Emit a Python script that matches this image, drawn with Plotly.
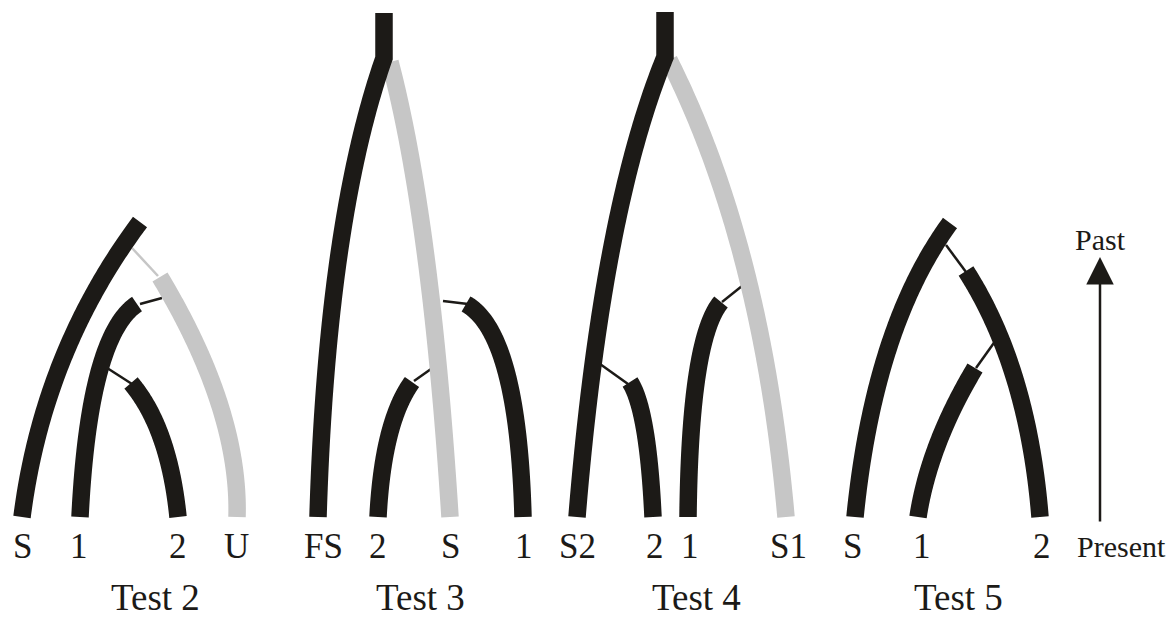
import numpy as np
import plotly.graph_objects as go

# ---------------- data (picture pixels, y grows downward) ----------------
# Each branch: tip label, present-end point, bend (control) point, past-end point
test2_branches = [
    ("S", (22, 517), (43, 352), (140, 222)),
    ("1", (80, 517), (89, 336), (137, 304)),
    ("2", (178, 517), (169, 428), (131, 383)),
    ("U", (237, 517), (240, 410), (160, 277)),
]
test2_grey = ["U"]
test2_links = [((132, 248), (158, 276), "grey"),
               ((140, 304), (162, 298), "black"),
               ((104, 366), (132, 384), "black")]

test3_trunk = [(384, 13), (384, 58)]
test3_trunk_branch = "FS"
test3_branches = [
    ("FS", (318, 517), (327, 221), (384, 58)),
    ("2", (378, 517), (383, 422), (412, 382)),
    ("S", (450, 517), (431, 218), (390, 62)),
    ("1", (523, 517), (518, 333), (466, 304)),
]
test3_grey = ["S"]
test3_links = [((443, 301), (468, 304), "black"),
               ((431, 369), (414, 381), "black")]

test4_trunk = [(665, 12), (665, 57)]
test4_trunk_branch = "S2"
test4_branches = [
    ("S2", (577, 517), (602, 211), (665, 57)),
    ("2", (653, 517), (648, 410), (630, 382)),
    ("1", (688, 517), (690, 339), (721, 302)),
    ("S1", (786, 517), (762, 245), (669, 60)),
]
test4_grey = ["S1"]
test4_links = [((600, 364), (628, 384), "black"),
               ((742, 286), (722, 302), "black")]

test5_branches = [
    ("S", (855, 517), (874, 327), (950, 223)),
    ("1", (918, 517), (929, 445), (975, 368)),
    ("2", (1040, 517), (1028, 368), (966, 271)),
]
test5_grey = []
test5_links = [((946, 245), (966, 272), "black"),
               ((996, 340), (976, 368), "black")]

tip_labels = [("S", 22), ("1", 79), ("2", 178), ("U", 236),
              ("FS", 323), ("2", 378), ("S", 450), ("1", 524),
              ("S2", 577), ("2", 655), ("1", 690), ("S1", 788),
              ("S", 852), ("1", 922), ("2", 1042)]
test_titles = [("Test 2", 155), ("Test 3", 420), ("Test 4", 696), ("Test 5", 958)]
time_arrow = {"x": 1100, "present_y": 523, "past_y": 257, "past_label_y": 239}

# ---------------- style ----------------
BLACK = "#1c1a17"
GREY = "#c6c6c6"
BRANCH_W = 17.5
LINK_W = 2.5
FONT = "Liberation Serif, Times New Roman, serif"


def bezier(p0, p1, p2, n=120):
    t = np.linspace(0, 1, n)[:, None]
    pts = (1 - t) ** 2 * np.array(p0) + 2 * t * (1 - t) * np.array(p1) + t ** 2 * np.array(p2)
    return pts[:, 0], pts[:, 1]


fig = go.Figure()


def line(xs, ys, color, width):
    fig.add_trace(go.Scatter(x=list(xs), y=list(ys), mode="lines",
                             line=dict(color=color, width=width, simplify=False),
                             hoverinfo="skip", showlegend=False))


trees = [
    (test2_branches, test2_grey, test2_links, None, None),
    (test3_branches, test3_grey, test3_links, test3_trunk, test3_trunk_branch),
    (test4_branches, test4_grey, test4_links, test4_trunk, test4_trunk_branch),
    (test5_branches, test5_grey, test5_links, None, None),
]

for branches, greys, links, trunk, trunk_branch in trees:
    for a, b, c in links:
        line([a[0], b[0]], [a[1], b[1]], BLACK if c == "black" else GREY, LINK_W)
    # grey first, black on top
    for name, p0, p1, p2 in branches:
        if name in greys:
            xs, ys = bezier(p0, p1, p2)
            line(xs, ys, GREY, BRANCH_W)
    for name, p0, p1, p2 in branches:
        if name not in greys:
            xs, ys = bezier(p0, p1, p2)
            xs, ys = list(xs), list(ys)
            if trunk is not None and name == trunk_branch:
                xs += [trunk[0][0]]
                ys += [trunk[0][1]]
            line(xs, ys, BLACK, BRANCH_W)

annotations = []
for txt, x in tip_labels:
    annotations.append(dict(x=x, y=546, text=txt, showarrow=False, xref="x", yref="y",
                            font=dict(family=FONT, size=35, color=BLACK)))
for txt, x in test_titles:
    annotations.append(dict(x=x, y=597, text=txt, showarrow=False, xref="x", yref="y",
                            font=dict(family=FONT, size=37, color=BLACK)))
annotations.append(dict(x=1121, y=546, text="Present", showarrow=False, xref="x", yref="y",
                        font=dict(family=FONT, size=30, color=BLACK)))
annotations.append(dict(x=time_arrow["x"], y=time_arrow["past_label_y"], text="Past",
                        showarrow=False, xref="x", yref="y",
                        font=dict(family=FONT, size=30, color=BLACK)))
annotations.append(dict(x=time_arrow["x"], y=time_arrow["past_y"],
                        ax=time_arrow["x"], ay=time_arrow["present_y"],
                        xref="x", yref="y", axref="x", ayref="y", text="",
                        showarrow=True, arrowhead=2, arrowsize=2.2, arrowwidth=2.5,
                        arrowcolor=BLACK))

fig.update_layout(
    width=1170, height=619,
    margin=dict(l=0, r=0, t=0, b=0),
    paper_bgcolor="white", plot_bgcolor="white",
    xaxis=dict(range=[0, 1170], visible=False, fixedrange=True),
    yaxis=dict(range=[619, 0], visible=False, fixedrange=True),
    annotations=annotations,
    showlegend=False,
)

fig.write_html("out.html", config={"displayModeBar": False},
               post_script="document.body.style.margin='0';")
